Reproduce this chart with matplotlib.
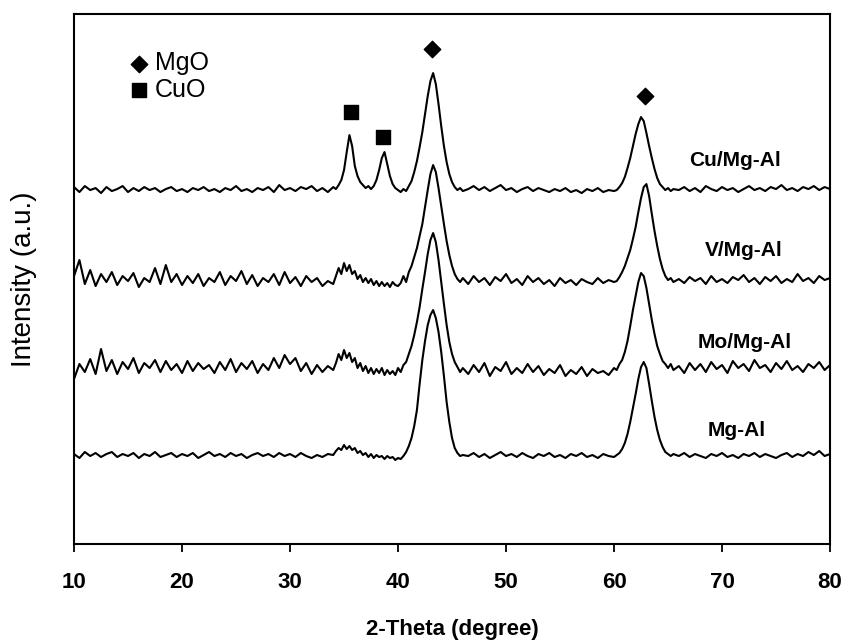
import numpy as np
import matplotlib
matplotlib.use("Agg")
import matplotlib.pyplot as plt

# 2-theta sampling positions (degree)
two_theta = [
    10.0, 10.5, 11.0, 11.5, 12.0, 12.5, 13.0, 13.5, 14.0, 14.5, 15.0, 15.5, 16.0, 16.5,
    17.0, 17.5, 18.0, 18.5, 19.0, 19.5, 20.0, 20.5, 21.0, 21.5, 22.0, 22.5, 23.0, 23.5,
    24.0, 24.5, 25.0, 25.5, 26.0, 26.5, 27.0, 27.5, 28.0, 28.5, 29.0, 29.5, 30.0, 30.5,
    31.0, 31.5, 32.0, 32.5, 33.0, 33.5, 34.0,
    34.25, 34.5, 34.75, 35.0, 35.25, 35.5, 35.75, 36.0, 36.25, 36.5, 36.75, 37.0,
    37.25, 37.5, 37.75, 38.0, 38.25, 38.5, 38.75, 39.0, 39.25, 39.5, 39.75, 40.0,
    40.25, 40.5, 40.75, 41.0, 41.25, 41.5, 41.75, 42.0, 42.25, 42.5, 42.75, 43.0,
    43.25, 43.5, 43.75, 44.0, 44.25, 44.5, 44.75, 45.0, 45.25, 45.5, 45.75, 46.0,
    46.5, 47.0, 47.5, 48.0, 48.5, 49.0, 49.5, 50.0, 50.5, 51.0, 51.5, 52.0, 52.5, 53.0,
    53.5, 54.0, 54.5, 55.0, 55.5, 56.0, 56.5, 57.0, 57.5, 58.0, 58.5, 59.0, 59.5, 60.0,
    60.25, 60.5, 60.75, 61.0, 61.25, 61.5, 61.75, 62.0, 62.25, 62.5, 62.75,
    63.0, 63.25, 63.5, 63.75, 64.0, 64.25, 64.5, 64.75, 65.0, 65.25, 65.5,
    66.0, 66.5, 67.0, 67.5, 68.0, 68.5, 69.0, 69.5, 70.0, 70.5, 71.0, 71.5, 72.0, 72.5,
    73.0, 73.5, 74.0, 74.5, 75.0, 75.5, 76.0, 76.5, 77.0, 77.5, 78.0, 78.5, 79.0, 79.5,
    80.0,
]

# intensities (a.u., traces already stacked)
cu_mgal = [
    357, 352, 358, 354, 356, 351, 357, 353, 355, 358, 352, 356, 353, 357,
    354, 356, 352, 355, 357, 353, 355, 352, 356, 354, 357, 353, 355, 352,
    356, 354, 358, 353, 355, 352, 356, 354, 357, 352, 359, 354, 356, 353,
    357, 355, 358, 353, 356, 352, 357,
    355, 359, 364, 374, 392, 409, 398, 378, 368, 362, 359, 356,
    358, 355, 358, 364, 374, 386, 392, 380, 368, 360, 356, 354,
    352, 355, 353, 358, 363, 372, 383, 397, 412, 430, 448, 463,
    471, 460, 440, 418, 398, 382, 370, 362, 357, 354, 356, 353,
    355, 358, 354, 357, 353, 356, 359, 354, 356, 352, 355, 357, 353, 356,
    354, 352, 355, 353, 356, 352, 354, 351, 355, 353, 356, 352, 354, 353,
    354, 357, 361, 367, 376, 386, 398, 410, 420, 427, 423,
    411, 398, 386, 375, 366, 360, 357, 354, 356, 353, 355,
    354, 357, 353, 356, 352, 358, 355, 353, 357, 354, 356, 352, 355, 358,
    354, 356, 353, 357, 355, 359, 354, 356, 353, 357, 355, 358, 354, 357,
    355,
]
v_mgal = [
    268, 284, 260, 274, 258, 270, 262, 272, 259, 268, 263, 271, 257, 266,
    262, 276, 260, 279, 262, 270, 259, 268, 261, 270, 258, 266, 262, 272,
    259, 268, 263, 273, 260, 269, 258, 266, 262, 270, 259, 272, 261, 267,
    258, 268, 262, 266, 258, 263, 260,
    268, 276, 270, 281, 273, 279, 270, 273, 265, 269, 262, 266,
    261, 265, 259, 263, 258, 262, 258, 261, 257, 262, 259, 258,
    261, 268, 262, 272, 278, 287, 296, 308, 320, 337, 354, 370,
    379, 372, 356, 338, 320, 303, 289, 278, 270, 265, 262, 266,
    260, 268, 262, 266, 259, 267, 263, 270, 261, 265, 259, 268, 262, 266,
    260, 264, 258, 266, 261, 264, 259, 265, 262, 260, 266, 261, 264, 262,
    263, 267, 272, 278, 286, 294, 305, 317, 332, 346, 357,
    360, 348, 330, 313, 298, 285, 275, 268, 264, 266, 262,
    265, 261, 267, 263, 266, 260, 268, 262, 265, 261, 267, 264, 269, 262,
    266, 260, 267, 263, 268, 261, 265, 262, 270, 263, 266, 261, 268, 264,
    266,
]
mo_mgal = [
    165, 180, 172, 185, 170, 195, 173, 184, 170, 182, 175, 186, 171, 181,
    176, 184, 172, 183, 174, 180, 171, 183, 173, 181, 175, 179, 171, 182,
    174, 185, 172, 181, 175, 183, 171, 180, 174, 186, 176, 189, 180, 186,
    173, 181, 170, 179, 172, 178, 174,
    181, 190, 184, 194, 186, 191, 182, 186, 176, 181, 173, 178,
    171, 176, 170, 175, 171, 176, 169, 174, 170, 173, 169, 176,
    172, 179, 182, 190, 198, 209, 222, 237, 255, 272, 290, 304,
    311, 302, 284, 262, 240, 219, 202, 190, 182, 177, 172, 176,
    170, 179, 172, 181, 168, 177, 173, 182, 170, 176, 171, 180, 172, 178,
    169, 175, 171, 179, 168, 174, 170, 177, 168, 175, 171, 173, 169, 176,
    174, 180, 184, 192, 203, 218, 234, 248, 262, 271, 268,
    256, 240, 224, 210, 198, 190, 183, 180, 176, 180, 174,
    178, 171, 181, 174, 180, 172, 182, 175, 179, 171, 183, 176, 180, 173,
    184, 176, 179, 172, 181, 175, 183, 174, 178, 172, 180, 176, 182, 174,
    179,
]
mgal = [
    90, 86, 92, 88, 91, 87, 90, 92, 87, 90, 88, 91, 86, 90,
    88, 92, 87, 89, 91, 87, 90, 88, 91, 86, 89, 92, 88, 90,
    87, 91, 88, 90, 86, 89, 91, 88, 90, 87, 91, 88, 90, 87,
    91, 88, 86, 89, 87, 90, 89,
    93, 96, 94, 99, 95, 98, 94, 96, 91, 93, 89, 91,
    87, 90, 86, 89, 87, 88, 85, 88, 86, 87, 84, 86,
    85, 88, 92, 98, 106, 118, 134, 160, 184, 203, 219, 229,
    234, 226, 212, 192, 168, 142, 122, 106, 96, 91, 88, 89,
    88, 91, 87, 90, 86, 89, 92, 88, 90, 87, 91, 88, 86, 90,
    88, 91, 87, 89, 86, 90, 88, 91, 87, 89, 86, 90, 88, 87,
    89, 91, 95, 101, 110, 122, 136, 150, 165, 177, 182,
    176, 160, 143, 127, 114, 104, 97, 92, 90, 88, 90,
    88, 91, 87, 90, 88, 86, 90, 88, 91, 87, 89, 86, 90, 88,
    91, 87, 90, 88, 86, 89, 91, 87, 90, 88, 92, 89, 93, 88,
    90,
]

series_names = ["Cu/Mg-Al", "V/Mg-Al", "Mo/Mg-Al", "Mg-Al"]
series_data = [cu_mgal, v_mgal, mo_mgal, mgal]
name_pos = [(67.0, 384), (68.4, 294), (67.7, 202), (68.7, 114)]

# phase markers
mgo_x = [43.1, 62.9]
mgo_y = [495, 448]
cuo_x = [35.6, 38.65]
cuo_y = [432, 407]

plt.rcParams["font.family"] = ["Liberation Sans", "DejaVu Sans"]

fig = plt.figure(figsize=(8.48, 6.4), dpi=100)
ax = fig.add_axes([0.0873, 0.15, 0.8915, 0.828])

for name, ys, (tx, ty) in zip(series_names, series_data, name_pos):
    ax.plot(two_theta, ys, color="black", lw=1.5)
    ax.text(tx, ty, name, fontsize=15, fontweight="bold", ha="left", va="center")

ax.scatter(mgo_x, mgo_y, marker="D", s=70, color="black", label="MgO")
ax.scatter(cuo_x, cuo_y, marker="s", s=110, color="black", label="CuO")
ax.legend(loc="upper left", bbox_to_anchor=(0.044, 0.963), frameon=False,
          fontsize=18, handletextpad=0.1, labelspacing=0.1, borderpad=0.2,
          handlelength=1.1)

ax.set_xlim(10, 80)
ax.set_ylim(0, 530)
ax.set_xticks([10, 20, 30, 40, 50, 60, 70, 80])
ax.set_yticks([])
ax.tick_params(axis="x", direction="out", length=6, width=1.3, pad=14, labelsize=16)
for lab in ax.get_xticklabels():
    lab.set_fontweight("bold")
for sp in ax.spines.values():
    sp.set_linewidth(1.5)

ax.set_xlabel("2-Theta (degree)", fontsize=16, fontweight="bold")
ax.set_ylabel("Intensity (a.u.)", fontsize=20)
ax.xaxis.set_label_coords(0.5, -0.141)
ax.yaxis.set_label_coords(-0.049, 0.5)

fig.savefig("out.png", dpi=100)
